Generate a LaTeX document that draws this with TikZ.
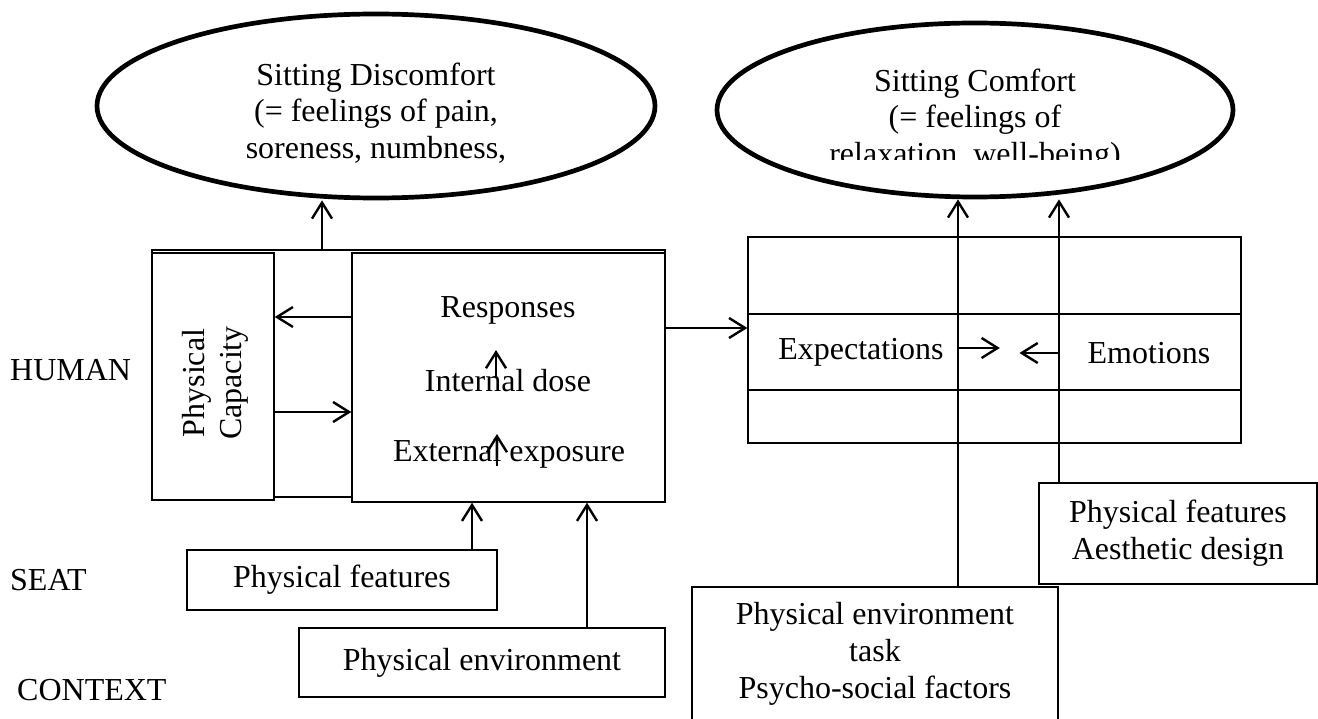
\documentclass[tikz,border=0pt]{standalone}
\usepackage{fontspec}
\setmainfont{Liberation Serif}
\usetikzlibrary{arrows.meta,shapes.geometric,calc}

\begin{document}
\begin{tikzpicture}[x=1pt,y=-1pt,
		every node/.style={font=\fontsize{32}{36.8}\selectfont, inner sep=0pt},
		box/.style={draw, line width=1.4pt},
		oval/.style={draw, ellipse, line width=4.7pt},
		arr/.style={line width=2.4pt, -{Straight Barb[length=16pt,width=20pt]}}]
			\clip (0,0) rectangle (1318,719);
			
			\node[anchor=west] (H) at (10,370) {HUMAN};
			\node[anchor=west] (S) at (10,580) {SEAT};
			\node[anchor=west] (C) at (17,690) {CONTEXT};
			
			\node[oval, minimum width=558pt, minimum height=184pt] (disc) at (376,106) {};
			\node[align=center] (disctxt) at (376,113) {Sitting Discomfort\\(= feelings of pain,\\soreness, numbness,};
			\node[oval, minimum width=516pt, minimum height=174pt] (comf) at (975,110) {};
			\begin{scope}
				\clip (715,20) rectangle (1235,160);
				\node[align=center] (comftxt) at (975,120) {Sitting Comfort\\(= feelings of\\relaxation, well-being)};
			\end{scope}
			
			\node[box, minimum width=513pt, minimum height=247pt] (frame) at (408.5,373.5) {};
			\node[box, fill=white, minimum width=122pt, minimum height=247pt] (cap) at (213,376.5) {};
			\node[rotate=90, align=center] (captxt) at (215,383) {Physical\\Capacity};
			\node[box, fill=white, minimum width=313pt, minimum height=249pt] (main) at (508.5,377.5) {};
			\node (resp) at (508,310) {Responses};
			\node (dose) at (508,381) {Internal dose};
			\node (expo) at (509,454) {External exposure};
			
			\node[box, minimum width=493pt, minimum height=206pt] (tab) at (994.5,340) {};
			\draw[box] (tab.west |- 0,314) -- (tab.east |- 0,314);
			\draw[box] (tab.west |- 0,390) -- (tab.east |- 0,390);
			\node (expect) at (861,352) {Expectations};
			\node (emo) at (1149,353) {Emotions};
			
			\node[box, minimum width=310pt, minimum height=60pt] (seatbox) at (342,580) {Physical features};
			\node[box, minimum width=366pt, minimum height=69pt] (envbox) at (482,662.5) {Physical environment};
			\node[box, minimum width=366pt, minimum height=134pt, align=center] (psy) at (875,654) {Physical environment\\task\\Psycho-social factors};
			\node[box, minimum width=278pt, minimum height=101pt, align=center] (aes) at (1178,533.5) {Physical features\\Aesthetic design};
			
			\draw[arr] (frame.north -| 322,0) -- (disc.south -| 322,0);
			\draw[arr] ($(dose.center)+(-12,-3)$) -- ($(resp.center)+(-12,40)$);
			\draw[arr] ($(expo.center)+(-12,12)$) -- ($(dose.center)+(-11,53)$);
			\draw[arr] (main.west |- 0,317) -- (cap.east |- 0,317);
			\draw[arr] (cap.east |- 0,412) -- (main.west |- 0,412);
			\draw[arr] (main.east |- 0,328) -- (tab.west |- 0,328);
			
			\draw[arr] (seatbox.north -| 472,0) -- (main.south -| 472,0);
			\draw[arr] (envbox.north -| 587,0) -- (main.south -| 587,0);
			\draw[arr] (psy.north -| 958,0) -- (comf.south -| 958,0);
			\draw[arr] (aes.north -| 1059,0) -- (comf.south -| 1059,0);
			\draw[arr] ($(expect.east)+(14,-4)$) -- ++(42,0);
			\draw[arr] ($(emo.west)+(-29,0)$) -- ++(-39,0);
			
		\end{tikzpicture}
\end{document}
